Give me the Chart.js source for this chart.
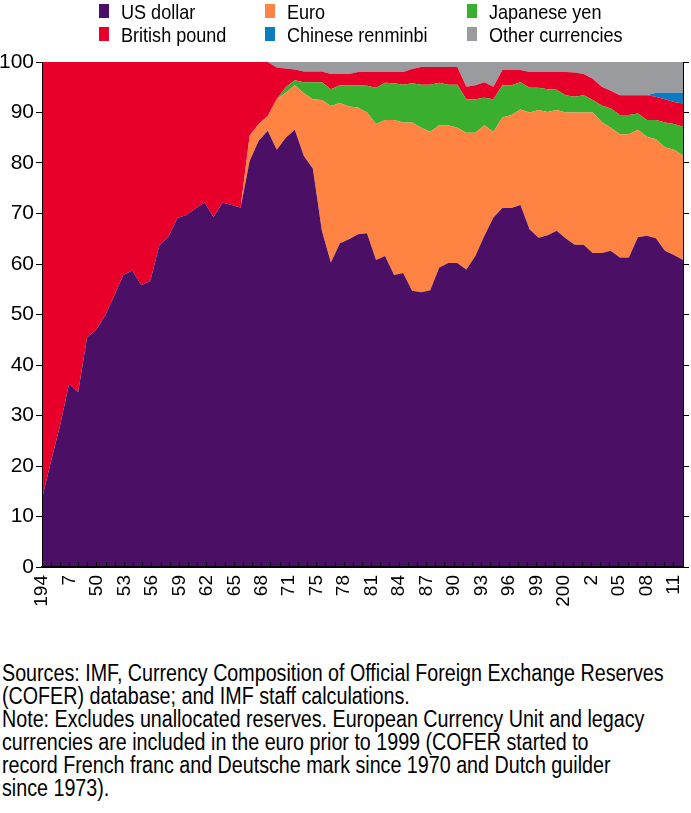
<!DOCTYPE html>
<html>
<head>
<meta charset="utf-8">
<script src="https://cdn.jsdelivr.net/npm/chart.js@4.4.0/dist/chart.umd.min.js"></script>
<style>
  html, body { margin: 0; padding: 0; background: #fff; }
  body {
    width: 691px; height: 813px; position: relative; overflow: hidden;
    font-family: "Liberation Sans", Arial, sans-serif;
    color: #000;
  }
  #legend { position: absolute; left: 0; top: 0; width: 691px; height: 48px; }
  .item { position: absolute; font-size: 21px; line-height: 23px; white-space: nowrap; }
  .item .box { position: absolute; left: 0; top: 4px; width: 10px; height: 14px; }
  .item .txt { position: absolute; left: 22px; top: 0; transform: scaleX(0.86); transform-origin: left top; }
  #wrap { position: absolute; left: 0; top: 0; width: 691px; height: 625px; }
  #notes {
    position: absolute; left: 2px; top: 662px; font-size: 23px; line-height: 23px; white-space: nowrap;
    transform: scaleX(0.856); transform-origin: left top;
  }
</style>
</head>
<body>
<div id="wrap"><canvas id="reserves"></canvas></div>
<div id="legend"></div>
<div id="notes">
  Sources: IMF, Currency Composition of Official Foreign Exchange Reserves<br>
  (COFER) database; and IMF staff calculations.<br>
  Note: Excludes unallocated reserves. European Currency Unit and legacy<br>
  currencies are included in the euro prior to 1999 (COFER started to<br>
  record French franc and Deutsche mark since 1970 and Dutch guilder<br>
  since 1973).
</div>
<script>
// labels shown under every third tick
const tickLabels = ["194", "7", "50", "53", "56", "59", "62", "65", "68", "71", "75", "78",
  "81", "84", "87", "90", "93", "96", "99", "200", "2", "05", "08", "11"];

// shares in percent, one value per point
const usDollar = [13.5, 21.0, 28.0, 36.3, 34.6, 45.5, 47.0, 49.8, 53.7, 57.8,
  58.7, 55.8, 56.7, 63.7, 65.4, 69.1, 69.7, 71.0, 72.2, 69.3,
  72.2, 71.7, 71.2, 80.4, 84.4, 86.4, 82.6, 85.0, 86.6, 81.4,
  78.9, 66.6, 60.3, 64.1, 64.9, 65.9, 66.1, 60.8, 61.6, 57.8,
  58.2, 54.7, 54.4, 54.8, 59.3, 60.2, 60.2, 58.9, 61.6, 65.6,
  69.2, 71.1, 71.1, 71.7, 66.9, 65.2, 65.7, 66.6, 65.1, 63.8,
  63.8, 62.2, 62.2, 62.6, 61.3, 61.3, 65.3, 65.6, 65.1, 62.6,
  61.8, 60.8];

const euro = [0, 0, 0, 0, 0, 0, 0, 0, 0, 0,
  0, 0, 0, 0, 0, 0, 0, 0, 0, 0,
  0, 0, 0, 5.0, 3.3, 2.9, 10.0, 8.9, 8.8, 12.4,
  13.7, 25.9, 31.0, 27.8, 26.3, 25.1, 23.9, 26.9, 26.9, 30.7,
  29.8, 33.3, 32.6, 31.4, 28.2, 27.3, 26.8, 27.1, 24.4, 21.9,
  17.0, 17.9, 18.4, 18.9, 23.1, 25.3, 24.4, 23.9, 24.9, 26.2,
  26.2, 27.8, 25.9, 24.4, 24.4, 24.4, 21.3, 19.6, 19.6, 20.5,
  20.8, 20.7];

const yen = [0, 0, 0, 0, 0, 0, 0, 0, 0, 0,
  0, 0, 0, 0, 0, 0, 0, 0, 0, 0,
  0, 0, 0, 0, 0, 0, 0, 1.1, 1.0, 2.2,
  3.4, 3.5, 3.3, 3.5, 4.2, 4.4, 5.3, 7.2, 7.4, 7.3,
  7.5, 7.8, 8.5, 9.3, 8.4, 8.0, 8.5, 6.6, 6.6, 5.4,
  6.4, 6.4, 5.9, 5.4, 4.9, 4.4, 4.5, 4.0, 3.4, 3.1,
  3.4, 2.5, 3.3, 3.8, 3.8, 3.8, 3.2, 3.3, 3.8, 4.9,
  5.1, 5.7];

const pound = [86.5, 79.0, 72.0, 63.7, 65.4, 54.5, 53.0, 50.2, 46.3, 42.2,
  41.3, 44.2, 43.3, 36.3, 34.6, 30.9, 30.3, 29.0, 27.8, 30.7,
  27.8, 28.3, 28.8, 14.6, 12.3, 10.7, 6.3, 3.7, 2.1, 2.1,
  2.1, 2.1, 3.0, 2.2, 2.2, 2.6, 2.7, 3.1, 2.1, 2.2,
  2.5, 2.8, 3.5, 3.5, 3.1, 3.5, 3.5, 2.5, 2.8, 3.1,
  2.5, 3.0, 3.0, 2.4, 3.1, 3.1, 3.4, 3.5, 4.6, 4.8,
  4.2, 4.2, 3.7, 3.5, 3.9, 3.9, 3.6, 4.9, 4.6, 4.6,
  4.4, 4.6];

const renminbi = [0, 0, 0, 0, 0, 0, 0, 0, 0, 0,
  0, 0, 0, 0, 0, 0, 0, 0, 0, 0,
  0, 0, 0, 0, 0, 0, 0, 0, 0, 0,
  0, 0, 0, 0, 0, 0, 0, 0, 0, 0,
  0, 0, 0, 0, 0, 0, 0, 0, 0, 0,
  0, 0, 0, 0, 0, 0, 0, 0, 0, 0,
  0, 0, 0, 0, 0, 0, 0, 0, 0.8, 1.3,
  1.8, 2.1];

const otherCurrencies = [0, 0, 0, 0, 0, 0, 0, 0, 0, 0,
  0, 0, 0, 0, 0, 0, 0, 0, 0, 0,
  0, 0, 0, 0, 0, 0, 1.1, 1.3, 1.5, 1.9,
  1.9, 1.9, 2.4, 2.4, 2.4, 2.0, 2.0, 2.0, 2.0, 2.0,
  2.0, 1.4, 1.0, 1.0, 1.0, 1.0, 1.0, 4.9, 4.6, 4.0,
  4.9, 1.6, 1.6, 1.6, 2.0, 2.0, 2.0, 2.0, 2.0, 2.1,
  2.4, 3.3, 4.9, 5.7, 6.6, 6.6, 6.6, 6.6, 6.1, 6.1,
  6.1, 6.1];

const seriesNames = ["US dollar", "Euro", "Japanese yen", "British pound", "Chinese renminbi", "Other currencies"];
const seriesValues = [usDollar, euro, yen, pound, renminbi, otherCurrencies];
const seriesColors = ["#4b0f66", "#ff8443", "#3aae2f", "#e8002b", "#0a7dc2", "#9a9b9f"];

Chart.defaults.font.family = "'Liberation Sans', Arial, sans-serif";
Chart.defaults.color = "#000";

const lastIndex = usDollar.length - 1;
const tickCount = (tickLabels.length - 1) * 3 + 2; // small marks along the bottom

const datasets = seriesValues.map((vals, i) => ({
  label: seriesNames[i],
  data: vals.map((v, j) => ({ x: j, y: v })),
  backgroundColor: seriesColors[i],
  borderColor: "transparent",
  borderWidth: 0,
  pointRadius: 0,
  tension: 0,
  fill: i === 0 ? "origin" : "-1",
}));

// no extra room for the rotated end labels
function noSidePadding(s) {
  s.paddingLeft = 0;
  s.paddingRight = 0;
}

const chart = new Chart("reserves", {
  type: "line",
  data: { datasets },
  options: {
    responsive: true,
    maintainAspectRatio: false,
    animation: false,
    layout: { padding: { top: 62, left: 0, right: 0, bottom: 0 } },
    plugins: { legend: { display: false }, tooltip: { enabled: false } },
    scales: {
      x: {
        type: "linear",
        min: 0,
        max: lastIndex,
        afterBuildTicks: (s) => {
          const ticks = [];
          for (let k = 0; k < tickCount; k++) {
            ticks.push({ value: (k * lastIndex) / (tickCount - 1) });
          }
          s.ticks = ticks;
        },
        afterFit: (s) => {
          s.height = 58;
          noSidePadding(s);
        },
        ticks: {
          autoSkip: false,
          minRotation: 90,
          maxRotation: 90,
          padding: 13,
          font: { size: 19 },
          callback: (v, i) => (i % 3 === 0 ? tickLabels[i / 3] : ""),
        },
        grid: {
          drawOnChartArea: false,
          drawTicks: true,
          tickLength: -5,
          color: "#000",
          lineWidth: 1,
          z: 1,
        },
        border: { display: true, color: "#000", width: 2, z: 1 },
      },
      y: {
        stacked: true,
        min: 0,
        max: 100,
        afterFit: (s) => { s.width = 42; },
        ticks: { stepSize: 10, padding: 2, font: { size: 21 } },
        grid: { drawOnChartArea: false, tickLength: 6, color: "#000", lineWidth: 1 },
        border: { display: true, color: "#000", width: 1, z: 1 },
      },
      y2: {
        position: "right",
        min: 0,
        max: 100,
        afterFit: (s) => { s.width = 8; },
        ticks: { stepSize: 10, display: false },
        grid: { drawOnChartArea: false, tickLength: 6, color: "#000", lineWidth: 1 },
        border: { display: true, color: "#000", width: 1, z: 1 },
      },
    },
  },
});

// legend: two rows of three, built from the datasets
const legend = document.querySelector("#legend");
const colLefts = [99, 265, 467];
chart.data.datasets.forEach((ds, i) => {
  const row = Math.floor(i / 3);
  const col = i % 3;
  legend.insertAdjacentHTML("beforeend", `
    <div class="item" style="left:${colLefts[col]}px; top:${row * 23}px">
      <span class="box" style="background:${ds.backgroundColor}"></span>
      <span class="txt">${ds.label}</span>
    </div>`);
});
</script>
</body>
</html>
